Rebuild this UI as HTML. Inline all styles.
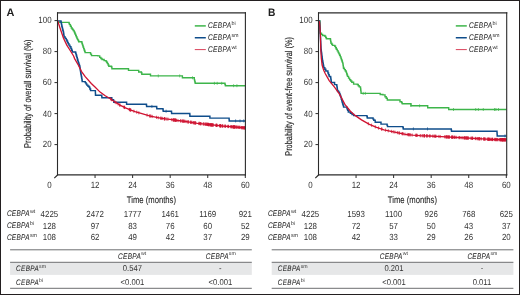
<!DOCTYPE html><html><head><meta charset="utf-8"><style>html,body{margin:0;padding:0;background:#fff;overflow:hidden;width:520px;height:295px;}svg{display:block;will-change:transform;text-rendering:geometricPrecision;}</style></head><body>
<svg width="520" height="295" viewBox="0 0 520 295" font-family='"Liberation Sans", sans-serif'>
<rect x="0" y="0" width="520" height="295" fill="#fff"/>
<text x="6.60" y="16.3" font-size="10.8" font-weight="bold" fill="#1e1e1e" textLength="7.9" lengthAdjust="spacingAndGlyphs">A</text>
<path d="M57.50,22.40H68.60H69.05V23.50H69.50V24.60H70.40V26.30H71.30V28.00H72.23V29.23H73.17V30.47H74.10V31.70H74.64V32.98H75.18V34.26H75.72V35.54H76.26V36.82H76.80V38.10H77.43V39.33H78.07V40.57H78.70V41.80H81.40H81.85V43.17H82.30V44.55H82.75V45.92H83.20V47.30H83.67V48.62H84.15V49.95H84.62V51.27H85.10V52.60H89.60H90.55V54.10H91.50V55.60H97.90V55.90H99.70V57.40H100.85V58.45H102.00V59.50H104.10V60.60H106.10V61.50H106.80V62.55H107.50V63.60H108.15V64.95H108.80V66.30H111.50V67.00H111.90V68.70H127.80H128.50V70.40H138.00H138.70V72.00H141.40V72.80H141.80V74.20H149.50H150.50V75.90H182.00H182.40V77.80H192.50H194.30V79.60H194.60V80.83H194.90V82.07H195.20V83.30H224.50H224.95V84.50H225.40V85.70H245.30" fill="none" stroke="#3db54a" stroke-width="1.4" stroke-linejoin="miter"/>
<path d="M158.30,74.40V77.40M179.70,74.40V77.40M192.50,76.30V79.30M214.40,81.80V84.80M217.20,81.80V84.80M221.70,81.80V84.80M233.60,84.20V87.20M236.90,84.20V87.20" fill="none" stroke="#3db54a" stroke-width="0.7" stroke-linejoin="miter"/>
<path d="M57.50,20.90H60.70H60.98V22.22H61.26V23.54H61.54V24.86H61.82V26.18H62.10V27.50H62.45V28.85H62.80V30.20H63.15V31.55H63.50V32.90H63.70V34.27H63.90V35.63H64.10V37.00H65.15V38.35H66.20V39.70H66.85V41.05H67.50V42.40H68.20V43.75H68.90V45.10H69.90V46.80H70.90V48.50H71.60V50.20H72.30V51.90H75.20H75.62V53.33H76.05V54.75H76.48V56.17H76.90V57.60H77.28V58.95H77.65V60.30H78.03V61.65H78.40V63.00H78.90V64.50H79.40V66.00H79.90V67.50H80.10V68.85H80.30V70.20H80.50V71.55H80.70V72.90H80.93V74.17H81.17V75.43H81.40V76.70H81.67V78.33H81.93V79.97H82.20V81.60H85.20V82.60H86.00V83.85H86.80V85.10H87.95V86.20H89.10V87.30H89.85V88.95H90.60V90.60H95.30H95.37V92.13H95.43V93.67H95.50V95.20H101.60H101.75V96.45H101.90V97.70H111.30H111.80V99.80H113.30V100.30H113.80V102.30H126.00H126.60V104.20H146.30H146.45V105.30H146.60V106.40H156.50H156.65V107.55H156.80V108.70H162.80H163.00V109.95H163.20V111.20H171.40H171.50V112.30H171.60V113.40H189.70H189.80V114.80H189.90V116.20H209.75H209.90V118.10H229.00H229.10V119.50H229.20V120.90H245.30" fill="none" stroke="#0f4d8b" stroke-width="1.45" stroke-linejoin="miter"/>
<path d="M151.90,104.90V107.90M166.10,109.70V112.70M235.60,119.40V122.40M240.00,119.40V122.40M243.75,119.40V122.40" fill="none" stroke="#0f4d8b" stroke-width="0.7" stroke-linejoin="miter"/>
<path d="M57.50,20.90 L58.00,21.80 L60.10,28.20 L63.50,38.30 L66.80,45.10 L70.20,50.50 L73.60,56.00 L74.60,58.60 L78.40,65.20 L81.40,71.30 L85.20,76.70 L91.30,83.50 L95.00,87.00 L100.10,92.10 L105.20,95.70 L110.30,98.70 L115.40,102.30 L120.40,105.40 L125.50,107.90 L130.30,109.90 L135.10,111.70 L140.20,113.20 L145.30,114.60 L150.40,116.10 L155.40,117.10 L160.50,118.20 L165.60,118.90 L170.00,119.40 L177.50,120.50 L185.00,121.40 L197.50,123.30 L210.00,124.70 L222.50,126.00 L235.00,127.00 L245.30,127.90" fill="none" stroke="#cf1230" stroke-width="1.3" stroke-linejoin="miter"/>
<path d="M110.58,97.30V100.50M111.58,98.01V101.21M115.12,100.50V103.70M116.10,101.13V104.33M118.13,102.39V105.59M119.76,103.40V106.60M119.90,103.49V106.69M123.86,105.49V108.69M124.44,105.78V108.98M124.68,105.90V109.10M129.31,107.89V111.09M129.45,107.94V111.14M130.26,108.28V111.48M130.42,108.35V111.55M130.84,108.50V111.70M133.88,109.64V112.84M136.74,110.58V113.78M138.85,111.20V114.40M147.06,113.52V116.72M149.90,114.35V117.55M149.93,114.36V117.56M150.95,114.61V117.81M152.22,114.86V118.06M156.52,115.74V118.94M158.22,116.11V119.31M160.49,116.60V119.80M161.44,116.73V119.93M162.33,116.85V120.05M164.18,117.11V120.31M164.69,117.18V120.38M164.74,117.18V120.38M164.85,117.20V120.40M166.75,117.43V120.63M167.98,117.57V120.77M171.70,118.05V121.25M172.96,118.23V121.43M173.87,118.37V121.57M173.95,118.38V121.58M173.96,118.38V121.58M173.99,118.38V121.58M175.15,118.55V121.75M175.19,118.56V121.76M175.56,118.61V121.81M175.71,118.64V121.84M176.55,118.76V121.96M178.02,118.96V122.16M180.64,119.28V122.48M180.85,119.30V122.50M182.31,119.48V122.68M182.97,119.56V122.76M183.07,119.57V122.77M183.98,119.68V122.88M184.06,119.69V122.89M185.07,119.81V123.01M186.19,119.98V123.18M187.77,120.22V123.42M188.08,120.27V123.47M188.65,120.35V123.55M190.55,120.64V123.84M191.03,120.72V123.92M191.14,120.73V123.93M192.13,120.88V124.08M193.48,121.09V124.29M193.95,121.16V124.36M194.62,121.26V124.46M195.07,121.33V124.53M195.36,121.37V124.57M195.76,121.44V124.64M199.00,121.87V125.07M199.18,121.89V125.09M199.20,121.89V125.09M200.60,122.05V125.25M200.72,122.06V125.26M200.94,122.09V125.29M203.20,122.34V125.54M203.64,122.39V125.59M204.78,122.52V125.72M205.81,122.63V125.83M205.83,122.63V125.83M206.27,122.68V125.88M206.94,122.76V125.96M207.38,122.81V126.01M207.47,122.82V126.02M208.09,122.89V126.09M208.25,122.90V126.10M208.55,122.94V126.14M208.55,122.94V126.14M208.97,122.98V126.18M209.39,123.03V126.23M210.06,123.11V126.31M210.46,123.15V126.35M210.59,123.16V126.36M211.03,123.21V126.41M211.59,123.26V126.46M211.68,123.27V126.47M211.75,123.28V126.48M212.23,123.33V126.53M212.50,123.36V126.56M212.91,123.40V126.60M213.39,123.45V126.65M216.06,123.73V126.93M216.08,123.73V126.93M216.52,123.78V126.98M216.84,123.81V127.01M217.09,123.84V127.04M219.47,124.09V127.29M220.12,124.15V127.35M220.15,124.16V127.36M220.56,124.20V127.40M220.59,124.20V127.40M220.73,124.22V127.42M222.12,124.36V127.56M222.38,124.39V127.59M222.68,124.41V127.61M224.24,124.54V127.74M225.21,124.62V127.82M225.52,124.64V127.84M228.08,124.85V128.05M228.10,124.85V128.05M228.36,124.87V128.07M230.82,125.07V128.27M231.25,125.10V128.30M231.34,125.11V128.31M232.77,125.22V128.42M232.99,125.24V128.44M233.35,125.27V128.47M233.78,125.30V128.50M233.97,125.32V128.52M233.99,125.32V128.52M234.40,125.35V128.55M234.92,125.39V128.59M234.92,125.39V128.59M235.10,125.41V128.61M236.44,125.53V128.73M237.08,125.58V128.78M237.12,125.59V128.79M238.50,125.71V128.91M239.16,125.76V128.96M239.71,125.81V129.01M240.13,125.85V129.05M241.63,125.98V129.18M242.01,126.01V129.21M242.12,126.02V129.22M242.19,126.03V129.23M243.20,126.12V129.32M243.43,126.14V129.34M244.17,126.20V129.40M244.27,126.21V129.41M244.65,126.24V129.44M244.88,126.26V129.46" fill="none" stroke="#cf1230" stroke-width="0.7" stroke-linejoin="miter"/>
<line x1="57.5" y1="12.3" x2="57.5" y2="175.4" stroke="#2b2b2b" stroke-width="1.1"/>
<line x1="57.0" y1="174.8" x2="246.0" y2="174.8" stroke="#2b2b2b" stroke-width="1.3"/>
<line x1="57.0" y1="12.9" x2="246.0" y2="12.9" stroke="#2b2b2b" stroke-width="1.2"/>
<line x1="245.4" y1="12.3" x2="245.4" y2="175.4" stroke="#2b2b2b" stroke-width="1.1"/>
<line x1="54.5" y1="144.60" x2="57.5" y2="144.60" stroke="#2b2b2b" stroke-width="1"/>
<text transform="translate(51.60,147.00) scale(0.88,1)" font-size="9.0" text-anchor="end" fill="#333333">20</text>
<line x1="54.5" y1="113.60" x2="57.5" y2="113.60" stroke="#2b2b2b" stroke-width="1"/>
<text transform="translate(51.60,117.00) scale(0.88,1)" font-size="9.0" text-anchor="end" fill="#333333">40</text>
<line x1="54.5" y1="82.60" x2="57.5" y2="82.60" stroke="#2b2b2b" stroke-width="1"/>
<text transform="translate(51.60,85.00) scale(0.88,1)" font-size="9.0" text-anchor="end" fill="#333333">60</text>
<line x1="54.5" y1="51.60" x2="57.5" y2="51.60" stroke="#2b2b2b" stroke-width="1"/>
<text transform="translate(51.60,54.00) scale(0.88,1)" font-size="9.0" text-anchor="end" fill="#333333">80</text>
<line x1="54.5" y1="20.60" x2="57.5" y2="20.60" stroke="#2b2b2b" stroke-width="1"/>
<text transform="translate(51.60,23.00) scale(0.88,1)" font-size="9.0" text-anchor="end" fill="#333333">100</text>
<line x1="95.06" y1="175" x2="95.06" y2="178" stroke="#2b2b2b" stroke-width="1"/>
<text transform="translate(95.06,188.00) scale(0.88,1)" font-size="9.0" text-anchor="middle" fill="#333333">12</text>
<line x1="132.62" y1="175" x2="132.62" y2="178" stroke="#2b2b2b" stroke-width="1"/>
<text transform="translate(132.62,188.00) scale(0.88,1)" font-size="9.0" text-anchor="middle" fill="#333333">24</text>
<line x1="170.18" y1="175" x2="170.18" y2="178" stroke="#2b2b2b" stroke-width="1"/>
<text transform="translate(170.18,188.00) scale(0.88,1)" font-size="9.0" text-anchor="middle" fill="#333333">36</text>
<line x1="207.74" y1="175" x2="207.74" y2="178" stroke="#2b2b2b" stroke-width="1"/>
<text transform="translate(207.74,188.00) scale(0.88,1)" font-size="9.0" text-anchor="middle" fill="#333333">48</text>
<line x1="245.30" y1="175" x2="245.30" y2="178" stroke="#2b2b2b" stroke-width="1"/>
<text transform="translate(245.30,188.00) scale(0.88,1)" font-size="9.0" text-anchor="middle" fill="#333333">60</text>
<line x1="57.5" y1="175" x2="54.3" y2="178.2" stroke="#2b2b2b" stroke-width="1.1"/>
<text transform="translate(49.40,188.00) scale(0.88,1)" font-size="9.0" text-anchor="middle" fill="#333333">0</text>
<text x="151.40" y="202.90" font-size="9.6" text-anchor="middle" textLength="49.2" lengthAdjust="spacingAndGlyphs" fill="#262626" stroke="#262626" stroke-width="0.1">Time (months)</text>
<text transform="translate(31.10,93.70) rotate(-90)" text-anchor="middle" font-size="9.8" fill="#1a1a1a" stroke="#1a1a1a" stroke-width="0.12" textLength="108.4" lengthAdjust="spacingAndGlyphs">Probability of overall survival (%)</text>
<line x1="194.8" y1="25.90" x2="205.8" y2="25.90" stroke="#3db54a" stroke-width="1.5" stroke-opacity="1"/>
<text transform="translate(208.10,28.00) scale(0.79,1)" font-size="8.3" font-style="italic" letter-spacing="0.368" fill="#2a2a2a" stroke="#2a2a2a" stroke-width="0.07">CEBPA</text>
<text x="231.40" y="25.00" font-size="5.4" fill="#333333">bi</text>
<line x1="194.8" y1="37.75" x2="205.8" y2="37.75" stroke="#0f4d8b" stroke-width="1.5" stroke-opacity="1"/>
<text transform="translate(208.10,40.00) scale(0.79,1)" font-size="8.3" font-style="italic" letter-spacing="0.368" fill="#2a2a2a" stroke="#2a2a2a" stroke-width="0.07">CEBPA</text>
<text x="231.40" y="37.00" font-size="5.4" fill="#333333">sm</text>
<line x1="194.8" y1="49.60" x2="205.8" y2="49.60" stroke="#cf1230" stroke-width="1.0" stroke-opacity="0.8"/>
<text transform="translate(208.10,52.00) scale(0.79,1)" font-size="8.3" font-style="italic" letter-spacing="0.368" fill="#2a2a2a" stroke="#2a2a2a" stroke-width="0.07">CEBPA</text>
<text x="231.40" y="49.00" font-size="5.4" fill="#333333">wt</text>
<text transform="translate(6.90,216.30) scale(0.79,1)" font-size="8.2" font-style="italic" letter-spacing="0.384" fill="#2a2a2a" stroke="#2a2a2a" stroke-width="0.07">CEBPA</text>
<text x="29.90" y="213.00" font-size="5.4" fill="#333333">wt</text>
<text transform="translate(49.40,217.00) scale(0.9,1)" font-size="8.8" text-anchor="middle" fill="#333333">4225</text>
<text transform="translate(95.06,217.00) scale(0.9,1)" font-size="8.8" text-anchor="middle" fill="#333333">2472</text>
<text transform="translate(132.62,217.00) scale(0.9,1)" font-size="8.8" text-anchor="middle" fill="#333333">1777</text>
<text transform="translate(170.18,217.00) scale(0.9,1)" font-size="8.8" text-anchor="middle" fill="#333333">1461</text>
<text transform="translate(207.74,217.00) scale(0.9,1)" font-size="8.8" text-anchor="middle" fill="#333333">1169</text>
<text transform="translate(245.30,217.00) scale(0.9,1)" font-size="8.8" text-anchor="middle" fill="#333333">921</text>
<text transform="translate(6.90,228.30) scale(0.79,1)" font-size="8.2" font-style="italic" letter-spacing="0.384" fill="#2a2a2a" stroke="#2a2a2a" stroke-width="0.07">CEBPA</text>
<text x="29.90" y="225.00" font-size="5.4" fill="#333333">bi</text>
<text transform="translate(49.40,228.60) scale(0.9,1)" font-size="8.8" text-anchor="middle" fill="#333333">128</text>
<text transform="translate(95.06,228.60) scale(0.9,1)" font-size="8.8" text-anchor="middle" fill="#333333">97</text>
<text transform="translate(132.62,228.60) scale(0.9,1)" font-size="8.8" text-anchor="middle" fill="#333333">83</text>
<text transform="translate(170.18,228.60) scale(0.9,1)" font-size="8.8" text-anchor="middle" fill="#333333">76</text>
<text transform="translate(207.74,228.60) scale(0.9,1)" font-size="8.8" text-anchor="middle" fill="#333333">60</text>
<text transform="translate(245.30,228.60) scale(0.9,1)" font-size="8.8" text-anchor="middle" fill="#333333">52</text>
<text transform="translate(6.90,240.30) scale(0.79,1)" font-size="8.2" font-style="italic" letter-spacing="0.384" fill="#2a2a2a" stroke="#2a2a2a" stroke-width="0.07">CEBPA</text>
<text x="29.90" y="237.00" font-size="5.4" fill="#333333">sm</text>
<text transform="translate(49.40,240.40) scale(0.9,1)" font-size="8.8" text-anchor="middle" fill="#333333">108</text>
<text transform="translate(95.06,240.40) scale(0.9,1)" font-size="8.8" text-anchor="middle" fill="#333333">62</text>
<text transform="translate(132.62,240.40) scale(0.9,1)" font-size="8.8" text-anchor="middle" fill="#333333">49</text>
<text transform="translate(170.18,240.40) scale(0.9,1)" font-size="8.8" text-anchor="middle" fill="#333333">42</text>
<text transform="translate(207.74,240.40) scale(0.9,1)" font-size="8.8" text-anchor="middle" fill="#333333">37</text>
<text transform="translate(245.30,240.40) scale(0.9,1)" font-size="8.8" text-anchor="middle" fill="#333333">29</text>
<rect x="10.1" y="262.5" width="241.70000000000002" height="12.4" fill="#e6e7e8"/>
<line x1="10.1" y1="249.8" x2="251.8" y2="249.8" stroke="#6d6e71" stroke-width="1"/>
<line x1="10.1" y1="262.3" x2="251.8" y2="262.3" stroke="#6d6e71" stroke-width="1"/>
<line x1="10.1" y1="288.3" x2="251.8" y2="288.3" stroke="#6d6e71" stroke-width="1"/>
<text transform="translate(118.10,259.00) scale(0.79,1)" font-size="8.2" font-style="italic" letter-spacing="0.384" fill="#2a2a2a" stroke="#2a2a2a" stroke-width="0.07">CEBPA</text>
<text x="141.10" y="255.40" font-size="5.2" fill="#333333">wt</text>
<text transform="translate(205.80,259.00) scale(0.79,1)" font-size="8.2" font-style="italic" letter-spacing="0.384" fill="#2a2a2a" stroke="#2a2a2a" stroke-width="0.07">CEBPA</text>
<text x="228.80" y="255.40" font-size="5.2" fill="#333333">sm</text>
<text transform="translate(16.10,271.40) scale(0.79,1)" font-size="8.0" font-style="italic" letter-spacing="0.517" fill="#2a2a2a" stroke="#2a2a2a" stroke-width="0.07">CEBPA</text>
<text x="39.10" y="268.10" font-size="5.2" fill="#333333">sm</text>
<text transform="translate(16.10,285.00) scale(0.79,1)" font-size="8.0" font-style="italic" letter-spacing="0.517" fill="#2a2a2a" stroke="#2a2a2a" stroke-width="0.07">CEBPA</text>
<text x="39.10" y="281.70" font-size="5.2" fill="#333333">bi</text>
<text transform="translate(132.40,271.30) scale(0.9,1)" font-size="8.5" text-anchor="middle" fill="#333333">0.547</text>
<text transform="translate(220.40,271.30) scale(0.9,1)" font-size="8.5" text-anchor="middle" fill="#333333">-</text>
<text transform="translate(132.40,285.00) scale(0.9,1)" font-size="8.5" text-anchor="middle" fill="#333333">&lt;0.001</text>
<text transform="translate(220.40,285.00) scale(0.9,1)" font-size="8.5" text-anchor="middle" fill="#333333">&lt;0.001</text>
<text x="268.00" y="16.3" font-size="10.8" font-weight="bold" fill="#1e1e1e" textLength="7.4" lengthAdjust="spacingAndGlyphs">B</text>
<path d="M318.50,20.90H319.90H319.93V22.25H319.97V23.60H320.00V24.95H320.03V26.30H320.07V27.65H320.10V29.00H320.17V30.43H320.23V31.87H320.30V33.30H321.45V34.40H322.60V35.50H324.90V36.30H325.65V37.55H326.40V38.80H330.20H330.47V40.27H330.73V41.73H331.00V43.20H331.75V44.30H332.50V45.40H334.80V46.20H335.55V47.70H336.30V49.20H337.25V50.85H338.20V52.50H338.90V53.90H339.60V55.30H340.30V56.90H341.00V58.50H341.45V59.77H341.90V61.05H342.35V62.33H342.80V63.60H343.03V65.17H343.27V66.73H343.50V68.30H344.40V69.67H345.30V71.03H346.20V72.40H346.63V73.73H347.07V75.07H347.50V76.40H348.55V78.10H349.60V79.80H350.70V81.00H351.80V82.20H353.60V84.10H357.30V84.50H358.25V85.70H359.20V86.90H360.40V87.20H360.57V88.75H360.75V90.30H360.93V91.85H361.10V93.40H378.80H380.20V94.50H382.90V94.90H385.00V96.80H386.20V98.30H387.30V100.00H399.40H400.00V101.70H401.70V102.90H402.30V103.70H410.40H411.00V105.80H427.10H427.70V107.70H448.30H448.70V109.50H506.50" fill="none" stroke="#3db54a" stroke-width="1.4" stroke-linejoin="miter"/>
<path d="M363.20,91.90V94.90M365.30,91.90V94.90M410.90,103.95V106.95M419.60,104.30V107.30M453.50,108.00V111.00M475.70,108.00V111.00M478.40,108.00V111.00M483.30,108.00V111.00M494.50,108.00V111.00M495.90,108.00V111.00M498.50,108.00V111.00" fill="none" stroke="#3db54a" stroke-width="0.7" stroke-linejoin="miter"/>
<path d="M318.50,20.90H319.50H319.58V22.31H319.66V23.72H319.74V25.13H319.82V26.54H319.90V27.95H319.98V29.36H320.06V30.77H320.14V32.18H320.22V33.59H320.30V35.00H320.37V36.36H320.45V37.73H320.52V39.09H320.59V40.45H320.66V41.82H320.74V43.18H320.81V44.55H320.88V45.91H320.95V47.27H321.03V48.64H321.10V50.00H321.28V51.35H321.45V52.70H321.62V54.05H321.80V55.40H321.98V56.75H322.15V58.10H322.32V59.45H322.50V60.80H322.76V62.16H323.02V63.52H323.28V64.88H323.54V66.24H323.80V67.60H324.80V69.30H325.80V71.00H327.90V73.00H328.55V74.70H329.20V76.40H330.60V77.10H330.78V78.45H330.95V79.80H331.12V81.15H331.30V82.50H333.30H334.60V84.60H336.70V85.20H336.90V86.62H337.10V88.05H337.30V89.48H337.50V90.90H338.50V92.25H339.50V93.60H339.97V94.93H340.43V96.27H340.90V97.60H341.33V99.20H341.77V100.80H342.20V102.40H342.67V103.97H343.13V105.53H343.60V107.10H346.30H346.97V108.70H347.63V110.30H348.30V111.90H350.40V113.20H352.05V114.40H353.70V115.60H366.60H366.95V116.80H367.30V118.00H372.30H373.05V119.10H373.80V120.20H375.20V122.30H380.30H381.00V124.10H386.70H387.10V125.35H387.50V126.60H402.60H402.95V127.75H403.30V128.90H451.10H451.30V130.10H451.50V131.30H496.90H497.00V132.83H497.10V134.37H497.20V135.90H506.50" fill="none" stroke="#0f4d8b" stroke-width="1.45" stroke-linejoin="miter"/>
<path d="M413.40,127.40V130.40M427.50,127.40V130.40M505.00,134.40V137.40" fill="none" stroke="#0f4d8b" stroke-width="0.7" stroke-linejoin="miter"/>
<path d="M318.50,20.90 L319.60,22.00 L320.40,35.00 L320.80,50.00 L321.30,58.00 L322.10,65.00 L323.60,70.00 L325.20,73.50 L329.20,80.60 L334.30,86.80 L339.40,93.90 L344.90,104.40 L350.40,111.20 L355.00,115.40 L361.50,119.90 L369.40,124.30 L376.60,127.40 L383.90,129.80 L391.10,131.40 L398.30,132.80 L405.50,134.30 L412.70,135.10 L419.90,135.60 L430.00,136.00 L441.30,136.60 L457.70,137.50 L474.00,138.40 L490.40,139.40 L506.50,139.80" fill="none" stroke="#cf1230" stroke-width="1.3" stroke-linejoin="miter"/>
<path d="M368.35,122.11V125.31M371.57,123.63V126.83M378.54,126.44V129.64M381.97,127.57V130.77M385.43,128.54V131.74M388.28,129.17V132.37M391.46,129.87V133.07M393.20,130.21V133.41M394.90,130.54V133.74M398.88,131.32V134.52M399.54,131.46V134.66M402.01,131.97V135.17M402.44,132.06V135.26M405.00,132.60V135.80M408.75,133.06V136.26M412.13,133.44V136.64M415.81,133.72V136.92M416.13,133.74V136.94M417.28,133.82V137.02M420.15,134.01V137.21M420.94,134.04V137.24M422.57,134.11V137.31M423.90,134.16V137.36M424.06,134.16V137.36M424.50,134.18V137.38M424.57,134.19V137.39M426.48,134.26V137.46M426.82,134.27V137.47M427.61,134.31V137.51M429.60,134.38V137.58M430.18,134.41V137.61M432.73,134.54V137.74M434.03,134.61V137.81M434.76,134.65V137.85M435.68,134.70V137.90M435.87,134.71V137.91M438.89,134.87V138.07M440.20,134.94V138.14M444.64,135.18V138.38M445.91,135.25V138.45M446.13,135.26V138.46M446.61,135.29V138.49M447.11,135.32V138.52M447.43,135.34V138.54M448.49,135.39V138.59M448.80,135.41V138.61M449.20,135.43V138.63M449.33,135.44V138.64M451.83,135.58V138.78M451.90,135.58V138.78M452.07,135.59V138.79M452.16,135.60V138.80M452.58,135.62V138.82M453.77,135.68V138.88M454.50,135.72V138.92M455.05,135.75V138.95M456.25,135.82V139.02M459.12,135.98V139.18M459.34,135.99V139.19M460.99,136.08V139.28M462.29,136.15V139.35M464.14,136.26V139.46M464.18,136.26V139.46M464.39,136.27V139.47M465.36,136.32V139.52M465.69,136.34V139.54M466.65,136.39V139.59M466.81,136.40V139.60M466.85,136.41V139.61M467.51,136.44V139.64M468.02,136.47V139.67M468.56,136.50V139.70M470.88,136.63V139.83M471.68,136.67V139.87M472.18,136.70V139.90M472.59,136.72V139.92M472.71,136.73V139.93M475.22,136.87V140.07M475.61,136.90V140.10M476.92,136.98V140.18M477.68,137.02V140.22M478.32,137.06V140.26M478.87,137.10V140.30M479.32,137.12V140.32M479.65,137.14V140.34M479.93,137.16V140.36M481.42,137.25V140.45M483.70,137.39V140.59M483.71,137.39V140.59M484.58,137.45V140.65M484.69,137.45V140.65M485.77,137.52V140.72M487.64,137.63V140.83M487.80,137.64V140.84M488.41,137.68V140.88M488.55,137.69V140.89M489.04,137.72V140.92M489.14,137.72V140.92M489.58,137.75V140.95M490.30,137.79V140.99M491.02,137.82V141.02M491.89,137.84V141.04M491.91,137.84V141.04M492.42,137.85V141.05M492.56,137.85V141.05M492.56,137.85V141.05M494.06,137.89V141.09M494.60,137.90V141.10M495.44,137.93V141.13M495.87,137.94V141.14M495.88,137.94V141.14M496.39,137.95V141.15M496.89,137.96V141.16M497.69,137.98V141.18M497.75,137.98V141.18M499.18,138.02V141.22M499.65,138.03V141.23M500.65,138.05V141.25M500.67,138.06V141.26M500.78,138.06V141.26M501.06,138.06V141.26M501.18,138.07V141.27M501.53,138.08V141.28M502.27,138.09V141.29M502.33,138.10V141.30M502.36,138.10V141.30M502.42,138.10V141.30M502.58,138.10V141.30M502.83,138.11V141.31M503.18,138.12V141.32M503.47,138.12V141.32M503.58,138.13V141.33M503.90,138.14V141.34M504.44,138.15V141.35M504.50,138.15V141.35M504.90,138.16V141.36M505.17,138.17V141.37M505.28,138.17V141.37M505.80,138.18V141.38M505.96,138.19V141.39M375.30,125.24V128.44M381.50,127.41V130.61M397.40,131.03V134.22M403.20,132.22V135.42M407.20,132.89V136.09M408.30,133.01V136.21M409.40,133.13V136.33M410.40,133.24V136.44M416.60,133.77V136.97" fill="none" stroke="#cf1230" stroke-width="0.7" stroke-linejoin="miter"/>
<line x1="318.5" y1="12.3" x2="318.5" y2="175.4" stroke="#2b2b2b" stroke-width="1.1"/>
<line x1="318.0" y1="174.8" x2="507.3" y2="174.8" stroke="#2b2b2b" stroke-width="1.3"/>
<line x1="318.0" y1="12.9" x2="507.3" y2="12.9" stroke="#2b2b2b" stroke-width="1.2"/>
<line x1="506.7" y1="12.3" x2="506.7" y2="175.4" stroke="#2b2b2b" stroke-width="1.1"/>
<line x1="315.5" y1="144.60" x2="318.5" y2="144.60" stroke="#2b2b2b" stroke-width="1"/>
<text transform="translate(312.60,147.00) scale(0.88,1)" font-size="9.0" text-anchor="end" fill="#333333">20</text>
<line x1="315.5" y1="113.60" x2="318.5" y2="113.60" stroke="#2b2b2b" stroke-width="1"/>
<text transform="translate(312.60,117.00) scale(0.88,1)" font-size="9.0" text-anchor="end" fill="#333333">40</text>
<line x1="315.5" y1="82.60" x2="318.5" y2="82.60" stroke="#2b2b2b" stroke-width="1"/>
<text transform="translate(312.60,85.00) scale(0.88,1)" font-size="9.0" text-anchor="end" fill="#333333">60</text>
<line x1="315.5" y1="51.60" x2="318.5" y2="51.60" stroke="#2b2b2b" stroke-width="1"/>
<text transform="translate(312.60,54.00) scale(0.88,1)" font-size="9.0" text-anchor="end" fill="#333333">80</text>
<line x1="315.5" y1="20.60" x2="318.5" y2="20.60" stroke="#2b2b2b" stroke-width="1"/>
<text transform="translate(312.60,23.00) scale(0.88,1)" font-size="9.0" text-anchor="end" fill="#333333">100</text>
<line x1="356.06" y1="175" x2="356.06" y2="178" stroke="#2b2b2b" stroke-width="1"/>
<text transform="translate(356.06,188.00) scale(0.88,1)" font-size="9.0" text-anchor="middle" fill="#333333">12</text>
<line x1="393.62" y1="175" x2="393.62" y2="178" stroke="#2b2b2b" stroke-width="1"/>
<text transform="translate(393.62,188.00) scale(0.88,1)" font-size="9.0" text-anchor="middle" fill="#333333">24</text>
<line x1="431.18" y1="175" x2="431.18" y2="178" stroke="#2b2b2b" stroke-width="1"/>
<text transform="translate(431.18,188.00) scale(0.88,1)" font-size="9.0" text-anchor="middle" fill="#333333">36</text>
<line x1="468.74" y1="175" x2="468.74" y2="178" stroke="#2b2b2b" stroke-width="1"/>
<text transform="translate(468.74,188.00) scale(0.88,1)" font-size="9.0" text-anchor="middle" fill="#333333">48</text>
<line x1="506.30" y1="175" x2="506.30" y2="178" stroke="#2b2b2b" stroke-width="1"/>
<text transform="translate(506.30,188.00) scale(0.88,1)" font-size="9.0" text-anchor="middle" fill="#333333">60</text>
<line x1="318.5" y1="175" x2="315.3" y2="178.2" stroke="#2b2b2b" stroke-width="1.1"/>
<text transform="translate(310.40,188.00) scale(0.88,1)" font-size="9.0" text-anchor="middle" fill="#333333">0</text>
<text x="412.40" y="202.90" font-size="9.6" text-anchor="middle" textLength="49.2" lengthAdjust="spacingAndGlyphs" fill="#262626" stroke="#262626" stroke-width="0.1">Time (months)</text>
<text transform="translate(291.60,96.40) rotate(-90)" text-anchor="middle" font-size="9.8" fill="#1a1a1a" stroke="#1a1a1a" stroke-width="0.12" textLength="118.8" lengthAdjust="spacingAndGlyphs">Probability of event-free survival (%)</text>
<line x1="455.8" y1="25.90" x2="466.8" y2="25.90" stroke="#3db54a" stroke-width="1.5" stroke-opacity="1"/>
<text transform="translate(469.10,28.00) scale(0.79,1)" font-size="8.3" font-style="italic" letter-spacing="0.368" fill="#2a2a2a" stroke="#2a2a2a" stroke-width="0.07">CEBPA</text>
<text x="492.40" y="25.00" font-size="5.4" fill="#333333">bi</text>
<line x1="455.8" y1="37.75" x2="466.8" y2="37.75" stroke="#0f4d8b" stroke-width="1.5" stroke-opacity="1"/>
<text transform="translate(469.10,40.00) scale(0.79,1)" font-size="8.3" font-style="italic" letter-spacing="0.368" fill="#2a2a2a" stroke="#2a2a2a" stroke-width="0.07">CEBPA</text>
<text x="492.40" y="37.00" font-size="5.4" fill="#333333">sm</text>
<line x1="455.8" y1="49.60" x2="466.8" y2="49.60" stroke="#cf1230" stroke-width="1.0" stroke-opacity="0.8"/>
<text transform="translate(469.10,52.00) scale(0.79,1)" font-size="8.3" font-style="italic" letter-spacing="0.368" fill="#2a2a2a" stroke="#2a2a2a" stroke-width="0.07">CEBPA</text>
<text x="492.40" y="49.00" font-size="5.4" fill="#333333">wt</text>
<text transform="translate(267.90,216.30) scale(0.79,1)" font-size="8.2" font-style="italic" letter-spacing="0.384" fill="#2a2a2a" stroke="#2a2a2a" stroke-width="0.07">CEBPA</text>
<text x="290.90" y="213.00" font-size="5.4" fill="#333333">wt</text>
<text transform="translate(310.40,217.00) scale(0.9,1)" font-size="8.8" text-anchor="middle" fill="#333333">4225</text>
<text transform="translate(356.06,217.00) scale(0.9,1)" font-size="8.8" text-anchor="middle" fill="#333333">1593</text>
<text transform="translate(393.62,217.00) scale(0.9,1)" font-size="8.8" text-anchor="middle" fill="#333333">1100</text>
<text transform="translate(431.18,217.00) scale(0.9,1)" font-size="8.8" text-anchor="middle" fill="#333333">926</text>
<text transform="translate(468.74,217.00) scale(0.9,1)" font-size="8.8" text-anchor="middle" fill="#333333">768</text>
<text transform="translate(506.30,217.00) scale(0.9,1)" font-size="8.8" text-anchor="middle" fill="#333333">625</text>
<text transform="translate(267.90,228.30) scale(0.79,1)" font-size="8.2" font-style="italic" letter-spacing="0.384" fill="#2a2a2a" stroke="#2a2a2a" stroke-width="0.07">CEBPA</text>
<text x="290.90" y="225.00" font-size="5.4" fill="#333333">bi</text>
<text transform="translate(310.40,228.60) scale(0.9,1)" font-size="8.8" text-anchor="middle" fill="#333333">128</text>
<text transform="translate(356.06,228.60) scale(0.9,1)" font-size="8.8" text-anchor="middle" fill="#333333">72</text>
<text transform="translate(393.62,228.60) scale(0.9,1)" font-size="8.8" text-anchor="middle" fill="#333333">57</text>
<text transform="translate(431.18,228.60) scale(0.9,1)" font-size="8.8" text-anchor="middle" fill="#333333">50</text>
<text transform="translate(468.74,228.60) scale(0.9,1)" font-size="8.8" text-anchor="middle" fill="#333333">43</text>
<text transform="translate(506.30,228.60) scale(0.9,1)" font-size="8.8" text-anchor="middle" fill="#333333">37</text>
<text transform="translate(267.90,240.30) scale(0.79,1)" font-size="8.2" font-style="italic" letter-spacing="0.384" fill="#2a2a2a" stroke="#2a2a2a" stroke-width="0.07">CEBPA</text>
<text x="290.90" y="237.00" font-size="5.4" fill="#333333">sm</text>
<text transform="translate(310.40,240.40) scale(0.9,1)" font-size="8.8" text-anchor="middle" fill="#333333">108</text>
<text transform="translate(356.06,240.40) scale(0.9,1)" font-size="8.8" text-anchor="middle" fill="#333333">42</text>
<text transform="translate(393.62,240.40) scale(0.9,1)" font-size="8.8" text-anchor="middle" fill="#333333">33</text>
<text transform="translate(431.18,240.40) scale(0.9,1)" font-size="8.8" text-anchor="middle" fill="#333333">29</text>
<text transform="translate(468.74,240.40) scale(0.9,1)" font-size="8.8" text-anchor="middle" fill="#333333">26</text>
<text transform="translate(506.30,240.40) scale(0.9,1)" font-size="8.8" text-anchor="middle" fill="#333333">20</text>
<rect x="271.70000000000005" y="262.5" width="241.70000000000005" height="12.4" fill="#e6e7e8"/>
<line x1="271.70000000000005" y1="249.8" x2="513.4000000000001" y2="249.8" stroke="#6d6e71" stroke-width="1"/>
<line x1="271.70000000000005" y1="262.3" x2="513.4000000000001" y2="262.3" stroke="#6d6e71" stroke-width="1"/>
<line x1="271.70000000000005" y1="288.3" x2="513.4000000000001" y2="288.3" stroke="#6d6e71" stroke-width="1"/>
<text transform="translate(379.70,259.00) scale(0.79,1)" font-size="8.2" font-style="italic" letter-spacing="0.384" fill="#2a2a2a" stroke="#2a2a2a" stroke-width="0.07">CEBPA</text>
<text x="402.70" y="255.40" font-size="5.2" fill="#333333">wt</text>
<text transform="translate(467.40,259.00) scale(0.79,1)" font-size="8.2" font-style="italic" letter-spacing="0.384" fill="#2a2a2a" stroke="#2a2a2a" stroke-width="0.07">CEBPA</text>
<text x="490.40" y="255.40" font-size="5.2" fill="#333333">sm</text>
<text transform="translate(277.70,271.40) scale(0.79,1)" font-size="8.0" font-style="italic" letter-spacing="0.517" fill="#2a2a2a" stroke="#2a2a2a" stroke-width="0.07">CEBPA</text>
<text x="300.70" y="268.10" font-size="5.2" fill="#333333">sm</text>
<text transform="translate(277.70,285.00) scale(0.79,1)" font-size="8.0" font-style="italic" letter-spacing="0.517" fill="#2a2a2a" stroke="#2a2a2a" stroke-width="0.07">CEBPA</text>
<text x="300.70" y="281.70" font-size="5.2" fill="#333333">bi</text>
<text transform="translate(394.00,271.30) scale(0.9,1)" font-size="8.5" text-anchor="middle" fill="#333333">0.201</text>
<text transform="translate(482.00,271.30) scale(0.9,1)" font-size="8.5" text-anchor="middle" fill="#333333">-</text>
<text transform="translate(394.00,285.00) scale(0.9,1)" font-size="8.5" text-anchor="middle" fill="#333333">&lt;0.001</text>
<text transform="translate(482.00,285.00) scale(0.9,1)" font-size="8.5" text-anchor="middle" fill="#333333">0.011</text>
<rect x="0.5" y="0.5" width="519" height="294" fill="none" stroke="#231f20" stroke-width="1"/>
</svg></body></html>
